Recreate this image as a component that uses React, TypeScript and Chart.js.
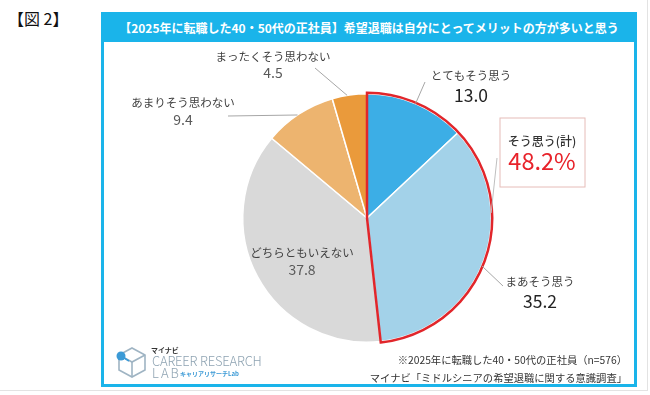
import React, { useEffect, useRef } from 'react';
import { Chart, registerables } from 'chart.js';

Chart.register(...registerables);

// ---------- data ----------
const categories = ['とてもそう思う', 'まあそう思う', 'どちらともいえない', 'あまりそう思わない', 'まったくそう思わない'];
const values = [13.0, 35.2, 37.8, 9.4, 4.5];
const sliceColors = ['#3caee6', '#a3d2e9', '#d9d9d9', '#edb46f', '#ea9a3b'];
const figureLabel = '【図 2】';
const titleText = '【2025年に転職した40・50代の正社員】希望退職は自分にとってメリットの方が多いと思う';
const agreeLabel = 'そう思う(計)';
const agreeIndexes = [0, 1];
const noteLines = ['※2025年に転職した40・50代の正社員（n=576）', 'マイナビ「ミドルシニアの希望退職に関する意識調査」'];

const FONT = '"Noto Sans CJK JP", "Noto Sans", sans-serif';

// label placement relative to pie centre (layout only)
const labelLayout = [
  { dx: 104, dyLabel: -142, dyValue: -123, big: true, leader: { angle: 23, ex: 58, ey: -136 } },
  { dx: 173, dyLabel: 64, dyValue: 83, big: true, leader: { angle: 112.6, ex: 136, ey: 68 } },
  { dx: -65, dyLabel: 35, dyValue: 52, big: false, leader: null },
  { dx: -184, dyLabel: -115, dyValue: -98, big: false, leader: { angle: 326, ex: -139, ey: -102 } },
  { dx: -94, dyLabel: -161, dyValue: -145, big: false, leader: { angle: 350.8, ex: -52, ey: -150 } },
];
const agreeBox = { dx: 175, dy: -66, w: 85, h: 69, leader: { angle: 87.7, ex: 130, ey: -60 } };

const overlayPlugin = {
  id: 'overlay',
  afterDatasetsDraw(chart: any) {
    const ctx = chart.ctx as CanvasRenderingContext2D;
    const meta = chart.getDatasetMeta(0);
    const a0 = meta.data[0] as any;
    const cx = a0.x;
    const cy = a0.y;
    const r = a0.outerRadius;

    const edge = (deg: number) => {
      const rad = (deg - 90) * Math.PI / 180;
      return [cx + Math.cos(rad) * r, cy + Math.sin(rad) * r];
    };

    // red outline around "agree" slices
    const first = meta.data[agreeIndexes[0]] as any;
    const last = meta.data[agreeIndexes[agreeIndexes.length - 1]] as any;
    ctx.save();
    ctx.beginPath();
    ctx.moveTo(cx, cy);
    ctx.arc(cx, cy, r + 1, first.startAngle, last.endAngle);
    ctx.closePath();
    ctx.strokeStyle = '#e1262b';
    ctx.lineWidth = 2.5;
    ctx.lineJoin = 'miter';
    ctx.stroke();
    ctx.restore();

    // leader lines + labels
    ctx.save();
    ctx.textAlign = 'center';
    ctx.textBaseline = 'middle';
    labelLayout.forEach((L, i) => {
      if (L.leader) {
        const [sx, sy] = edge(L.leader.angle);
        ctx.beginPath();
        ctx.moveTo(sx, sy);
        ctx.lineTo(cx + L.leader.ex, cy + L.leader.ey);
        ctx.strokeStyle = '#a6a6a6';
        ctx.lineWidth = 1;
        ctx.stroke();
      }
      ctx.fillStyle = '#404040';
      ctx.font = `400 11.5px ${FONT}`;
      ctx.fillText(categories[i], cx + L.dx, cy + L.dyLabel);
      if (L.big) {
        ctx.fillStyle = '#222222';
        ctx.font = `400 17.5px ${FONT}`;
      } else {
        ctx.fillStyle = '#595959';
        ctx.font = `400 14px ${FONT}`;
      }
      ctx.fillText(values[i].toFixed(1), cx + L.dx, cy + L.dyValue);
    });

    // agree total box
    const total = agreeIndexes.reduce((s, k) => s + values[k], 0);
    const bx = cx + agreeBox.dx - agreeBox.w / 2;
    const by = cy + agreeBox.dy - agreeBox.h / 2;
    const [lsx, lsy] = edge(agreeBox.leader.angle);
    ctx.beginPath();
    ctx.moveTo(lsx, lsy);
    ctx.lineTo(cx + agreeBox.leader.ex, cy + agreeBox.leader.ey);
    ctx.strokeStyle = '#bfbfbf';
    ctx.lineWidth = 1;
    ctx.stroke();
    ctx.fillStyle = '#ffffff';
    ctx.fillRect(bx, by, agreeBox.w, agreeBox.h);
    ctx.strokeStyle = '#e6bcb8';
    ctx.lineWidth = 1;
    ctx.strokeRect(bx + 0.5, by + 0.5, agreeBox.w, agreeBox.h);
    ctx.fillStyle = '#333333';
    ctx.font = `500 12px ${FONT}`;
    ctx.fillText(agreeLabel, cx + agreeBox.dx, cy + agreeBox.dy - 11);
    ctx.fillStyle = '#e8222a';
    ctx.font = `400 23.5px ${FONT}`;
    ctx.fillText(total.toFixed(1) + '%', cx + agreeBox.dx, cy + agreeBox.dy + 9);
    ctx.restore();
  },
};

function Logo() {
  return (
    <div style={{ position: 'absolute', left: 115, top: 344, width: 140, height: 38 }}>
      <svg width={32} height={34} style={{ position: 'absolute', left: 0, top: 2 }}>
        <g fill="none" stroke="#9fb4c3" strokeWidth={1.6}>
          <polygon points="17,2 30,9 30,24 17,31 4,24 4,9" />
          <polyline points="4,9 17,16 30,9" />
          <line x1={17} y1={16} x2={17} y2={31} />
        </g>
        <line x1={6} y1={10} x2={14} y2={15} stroke="#3b9ad6" strokeWidth={1.6} />
        <circle cx={6} cy={10} r={4.5} fill="#3b9ad6" />
      </svg>
      <div style={{ position: 'absolute', left: 36, top: 2, fontFamily: FONT, fontSize: 7, fontWeight: 700, color: '#333', lineHeight: '8px' }}>マイナビ</div>
      <div style={{ position: 'absolute', left: 37, top: 10, fontFamily: FONT, fontSize: 13, fontWeight: 300, color: '#8ea3b2', lineHeight: '14px', whiteSpace: 'nowrap', letterSpacing: -0.2 }}>CAREER RESEARCH</div>
      <div style={{ position: 'absolute', left: 37, top: 22, fontFamily: FONT, fontSize: 13, fontWeight: 300, color: '#8ea3b2', lineHeight: '14px', letterSpacing: 2 }}>LAB</div>
      <div style={{ position: 'absolute', left: 65, top: 26, fontFamily: FONT, fontSize: 6, fontWeight: 700, color: '#3b9ad6', lineHeight: '7px', whiteSpace: 'nowrap' }}>キャリアリサーチLab</div>
    </div>
  );
}

export default function App() {
  const canvasRef = useRef<HTMLCanvasElement | null>(null);

  useEffect(() => {
    if (!canvasRef.current) return;
    const chart = new Chart(canvasRef.current, {
      type: 'pie',
      data: {
        labels: categories,
        datasets: [
          {
            data: values,
            backgroundColor: sliceColors,
            borderColor: '#ffffff',
            borderWidth: 1.5,
          },
        ],
      },
      options: {
        responsive: false,
        animation: false,
        rotation: 0,
        layout: { padding: { left: 138, right: 142, top: 51, bottom: 41 } },
        plugins: {
          legend: { display: false },
          tooltip: { enabled: false },
          title: { display: false },
        },
      },
      plugins: [overlayPlugin],
    });
    return () => chart.destroy();
  }, []);

  return (
    <div style={{ position: 'fixed', left: 0, top: 0, width: 650, height: 395, background: '#ffffff', overflow: 'hidden' }}>
      <div style={{ position: 'absolute', left: 0, top: 0, width: 647, height: 390, borderRight: '1px solid #e3e3e3', borderBottom: '1px solid #e3e3e3' }} />
      <div style={{ position: 'absolute', left: 8, top: 7, fontFamily: FONT, fontSize: 16, color: '#111', lineHeight: '22px', whiteSpace: 'nowrap' }}>{figureLabel}</div>
      <div style={{ position: 'absolute', left: 101, top: 12, width: 536, height: 375, boxSizing: 'border-box', border: '3px solid #1ab4ea', background: '#fff' }} />
      <div style={{ position: 'absolute', left: 101, top: 12, width: 536, height: 30, background: '#1ab4ea', color: '#fff', fontFamily: FONT, fontSize: 12, fontWeight: 700, display: 'flex', alignItems: 'center', justifyContent: 'center', whiteSpace: 'nowrap' }}>{titleText}</div>
      <canvas ref={canvasRef} width={530} height={342} style={{ position: 'absolute', left: 104, top: 42, width: 530, height: 342 }} />
      <Logo />
      <div style={{ position: 'absolute', right: 23, top: 352, fontFamily: FONT, fontSize: 10.3, color: '#333', lineHeight: '16px', textAlign: 'right', whiteSpace: 'nowrap' }}>
        {noteLines.map((t, i) => (
          <div key={i} style={{ height: 18 }}>{t}</div>
        ))}
      </div>
    </div>
  );
}
